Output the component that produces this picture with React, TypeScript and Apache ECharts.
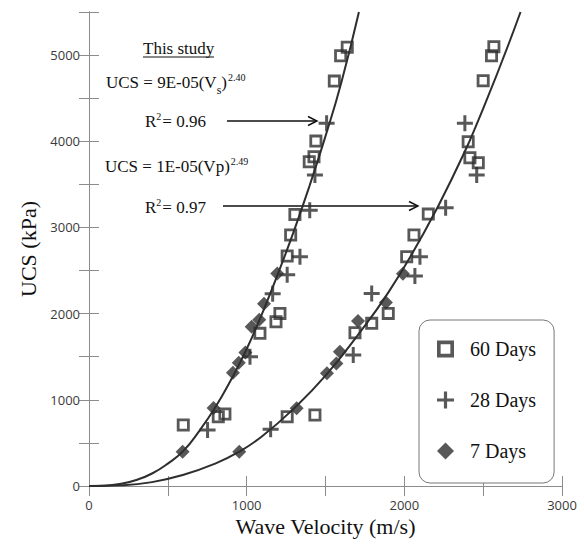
import React, { useEffect, useRef } from "react";
import * as echarts from "echarts";

// ---- data ----
const legendNames = ["60 Days", "28 Days", "7 Days"];

const days60: number[][] = [
  [598, 708], [820, 804], [862, 835], [1084, 1771], [1186, 1906], [1211, 2003],
  [1257, 2668], [1279, 2912], [1306, 3150], [1397, 3762], [1427, 3820], [1439, 4002],
  [1556, 4698], [1596, 4992], [1638, 5090],
  [1257, 804], [1433, 824], [1687, 1778], [1793, 1887], [1898, 2003], [2015, 2660],
  [2061, 2912], [2152, 3155], [2405, 3994], [2416, 3809], [2469, 3751], [2500, 4702],
  [2553, 4992], [2568, 5096],
];

const days28: number[][] = [
  [752, 650], [1021, 1500], [1165, 2230], [1257, 2450], [1338, 2660], [1400, 3200],
  [1433, 3608], [1507, 4208],
  [1152, 658], [1676, 1520], [1793, 2235], [2067, 2436], [2099, 2660], [2262, 3230],
  [2459, 3608], [2384, 4208],
];

const days7: number[][] = [
  [594, 398], [790, 905], [913, 1314], [950, 1430], [992, 1550], [1032, 1848],
  [1080, 1930], [1110, 2115], [1194, 2467],
  [953, 398], [1317, 901], [1509, 1307], [1569, 1420], [1591, 1558], [1706, 1914],
  [1883, 2129], [1991, 2464],
];

// fitted trend curves
const vsCurve: number[][] = [
  [0, 0], [100, 4], [200, 25], [300, 70], [400, 145], [500, 260], [600, 410],
  [700, 640], [800, 910], [900, 1230], [1000, 1590], [1100, 2010], [1200, 2470],
  [1300, 2960], [1400, 3490], [1500, 4060], [1600, 4680], [1712, 5500],
];

const vpCurve: number[][] = [
  [0, 0], [200, 8], [400, 45], [600, 130], [800, 260], [953, 398], [1100, 580],
  [1300, 900], [1500, 1280], [1700, 1740], [1900, 2250], [2100, 2860],
  [2300, 3560], [2500, 4380], [2737, 5500],
];

const xTickLabels = [0, 1000, 2000, 3000];
const yTickLabels = [0, 1000, 2000, 3000, 4000, 5000];

const SERIF = '"Liberation Serif", "Times New Roman", serif';
const SANS = '"Open Sans", "DejaVu Sans", sans-serif';
const INK = "#2e2e2e";
const AXIS = "#8c8c8c";

const SQUARE = "path://M0,0H14V14H0Z M3,3V11H11V3Z";
const CROSS = "path://M6.5,0H9.5V6.5H16V9.5H9.5V16H6.5V9.5H0V6.5H6.5Z";

function tw(text: string, font: string): number {
  const c = document.createElement("canvas").getContext("2d");
  if (!c) return text.length * 8;
  c.font = font;
  return c.measureText(text).width;
}

function txt(text: string, x: number, y: number, size: number, extra: any = {}) {
  return {
    type: "text",
    x,
    y,
    silent: true,
    style: {
      text,
      fill: "#111",
      font: `${size}px ${SERIF}`,
      align: "left",
      verticalAlign: "middle",
      ...extra,
    },
  };
}

function equation(main: string, sub: string, close: string, sup: string, x: number, y: number) {
  const els: any[] = [];
  const mf = `17px ${SERIF}`;
  els.push(txt(main, x, y, 17));
  let cx = x + tw(main, mf);
  if (sub) {
    els.push(txt(sub, cx, y + 8, 12));
    cx += tw(sub, `12px ${SERIF}`);
  }
  els.push(txt(close, cx, y, 17));
  cx += tw(close, mf);
  els.push(txt(sup, cx + 1, y - 5, 10));
  return els;
}

function rsq(val: string, x: number, y: number) {
  const els: any[] = [];
  els.push(txt("R", x, y, 17));
  let cx = x + tw("R", `17px ${SERIF}`);
  els.push(txt("2", cx, y - 5, 10));
  cx += tw("2", `10px ${SERIF}`);
  els.push(txt("= " + val, cx + 1, y, 17));
  return els;
}

function arrow(x1: number, x2: number, y: number) {
  return [
    { type: "line", silent: true, shape: { x1, y1: y, x2, y2: y }, style: { stroke: "#111", lineWidth: 1.4 } },
    {
      type: "polyline",
      silent: true,
      shape: { points: [[x2 - 9, y - 4.5], [x2, y], [x2 - 9, y + 4.5]] },
      style: { stroke: "#111", lineWidth: 1.4, fill: "none" },
    },
  ];
}

export default function App() {
  const ref = useRef<HTMLDivElement>(null);

  useEffect(() => {
    if (!ref.current) return;
    const chart = echarts.init(ref.current, null, { renderer: "svg" });

    const labelFmt = (list: number[]) => (v: number) => (list.indexOf(v) >= 0 ? String(v) : "");

    const baseAxis = {
      type: "value",
      splitLine: { show: false },
      axisLine: { show: true, lineStyle: { color: AXIS, width: 1 } },
      axisTick: { show: true, inside: true, length: 10, lineStyle: { color: AXIS, width: 1 } },
    };

    const graphics: any[] = [
      txt("This study", 143, 48, 17),
      {
        type: "line",
        silent: true,
        shape: { x1: 143, y1: 57, x2: 214, y2: 57 },
        style: { stroke: "#111", lineWidth: 1 },
      },
      ...equation("UCS = 9E-05(V", "s", ")", "2.40", 106, 82),
      ...rsq("0.96", 145, 121),
      ...arrow(227, 317, 121),
      ...equation("UCS = 1E-05(Vp", "", ")", "2.49", 105, 166),
      ...rsq("0.97", 145, 207),
      ...arrow(223, 418, 206),
    ];

    chart.setOption({
      animation: false,
      backgroundColor: "#ffffff",
      grid: { left: 89, right: 22, top: 12, bottom: 61, containLabel: false },
      xAxis: [
        {
          ...baseAxis,
          position: "bottom",
          min: 0,
          max: 3000,
          interval: 500,
          axisLabel: {
            formatter: labelFmt(xTickLabels),
            color: "#3a3a3a",
            fontFamily: SANS,
            fontSize: 13,
            margin: 12,
          },
          name: "Wave Velocity (m/s)",
          nameLocation: "middle",
          nameGap: 24,
          nameTextStyle: { fontFamily: SERIF, fontSize: 22, color: "#111" },
        },
        {
          ...baseAxis,
          position: "top",
          min: 0,
          max: 3000,
          interval: 500,
          axisLabel: { show: false },
        },
      ],
      yAxis: [
        {
          ...baseAxis,
          position: "left",
          min: 0,
          max: 5500,
          interval: 500,
          axisLabel: {
            formatter: labelFmt(yTickLabels),
            color: "#3a3a3a",
            fontFamily: SANS,
            fontSize: 13,
            margin: 9,
          },
          name: "UCS (kPa)",
          nameLocation: "middle",
          nameGap: 42,
          nameRotate: 90,
          nameTextStyle: { fontFamily: SERIF, fontSize: 22, color: "#111" },
        },
        {
          ...baseAxis,
          position: "right",
          min: 0,
          max: 5500,
          interval: 500,
          axisLabel: { show: false },
        },
      ],
      legend: {
        data: [
          { name: legendNames[0], icon: SQUARE },
          { name: legendNames[1], icon: CROSS },
          { name: legendNames[2], icon: "diamond" },
        ],
        orient: "vertical",
        left: 419,
        top: 320,
        padding: [19, 18, 22, 18],
        itemGap: 31,
        itemWidth: 17,
        itemHeight: 17,
        borderColor: "#777",
        borderWidth: 1,
        borderRadius: 11,
        backgroundColor: "#fff",
        selectedMode: false,
        textStyle: { fontFamily: SERIF, fontSize: 20, color: "#111", padding: [0, 0, 0, 11] },
      },
      series: [
        {
          type: "line",
          name: "Vs fit",
          data: vsCurve,
          smooth: true,
          showSymbol: false,
          lineStyle: { color: INK, width: 2 },
          z: 1,
          silent: true,
        },
        {
          type: "line",
          name: "Vp fit",
          data: vpCurve,
          smooth: true,
          showSymbol: false,
          lineStyle: { color: INK, width: 2 },
          z: 1,
          silent: true,
        },
        {
          type: "scatter",
          name: legendNames[2],
          data: days7,
          symbol: "diamond",
          symbolSize: 14,
          itemStyle: { color: INK },
          z: 2,
        },
        {
          type: "scatter",
          name: legendNames[1],
          data: days28,
          symbol: CROSS,
          symbolSize: 16,
          itemStyle: { color: INK },
          z: 3,
        },
        {
          type: "scatter",
          name: legendNames[0],
          data: days60,
          symbol: SQUARE,
          symbolSize: 13,
          itemStyle: { color: INK },
          z: 4,
        },
      ],
      graphic: graphics,
    });

    return () => chart.dispose();
  }, []);

  return (
    <div
      ref={ref}
      style={{ position: "absolute", left: 0, top: 0, width: 584, height: 547, background: "#fff" }}
    />
  );
}
